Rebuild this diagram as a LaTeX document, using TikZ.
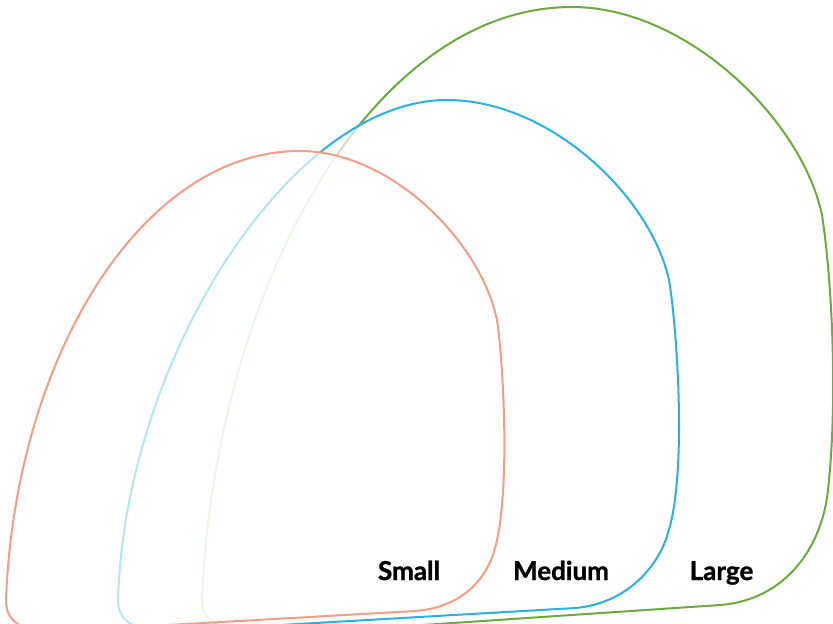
\documentclass[tikz,border=0pt]{standalone}
\usepackage{fontspec}
\setmainfont{Lato}[BoldFeatures={FakeBold=1.2}]
\definecolor{salmonc}{HTML}{F39D89}
\definecolor{bluec}{HTML}{29B0E4}
\definecolor{greenc}{HTML}{6CAA3E}
\begin{document}
\begin{tikzpicture}[x=1pt,y=-1pt,
  archshape/.style={line width=2pt, fill=white, fill opacity=0.66, line join=round},
  lbl/.style={anchor=base, inner sep=0pt, font=\fontsize{26}{30}\selectfont\bfseries}]
\useasboundingbox (0,0) rectangle (833,624);
\clip (0,0) rectangle (833,624);
% Large
\draw[archshape, draw=greenc] (202,600) .. controls (215,290) and (370,7) .. (572,7)
  .. controls (687,7) and (802,120) .. (822,215)
  .. controls (832,280) and (838,400) .. (828,490)
  .. controls (822,548) and (785,600) .. (720,605)
  -- (260,636) .. controls (215,630) and (202,618) .. (202,600) -- cycle;
% Medium
\draw[archshape, draw=bluec] (118,600) .. controls (125,360) and (290,100) .. (447,100)
  .. controls (549,100) and (650,195) .. (669,280)
  .. controls (676,320) and (688,470) .. (668,533)
  .. controls (658,568) and (625,604) .. (575,608)
  -- (160,632) .. controls (125,628) and (118,615) .. (118,600) -- cycle;
% Small
\draw[archshape, draw=salmonc] (6,600) .. controls (15,360) and (140,151) .. (300,151)
  .. controls (390,151) and (480,240) .. (497,320)
  .. controls (503,360) and (510,480) .. (497,540)
  .. controls (490,576) and (465,607) .. (415,611)
  -- (45,632) .. controls (12,628) and (6,615) .. (6,600) -- cycle;
\node[lbl] (small) at (409,580) {Small};
\node[lbl] (medium) at (561,580) {Medium};
\node[lbl] (large) at (721.5,580) {Large};
\end{tikzpicture}
\end{document}
